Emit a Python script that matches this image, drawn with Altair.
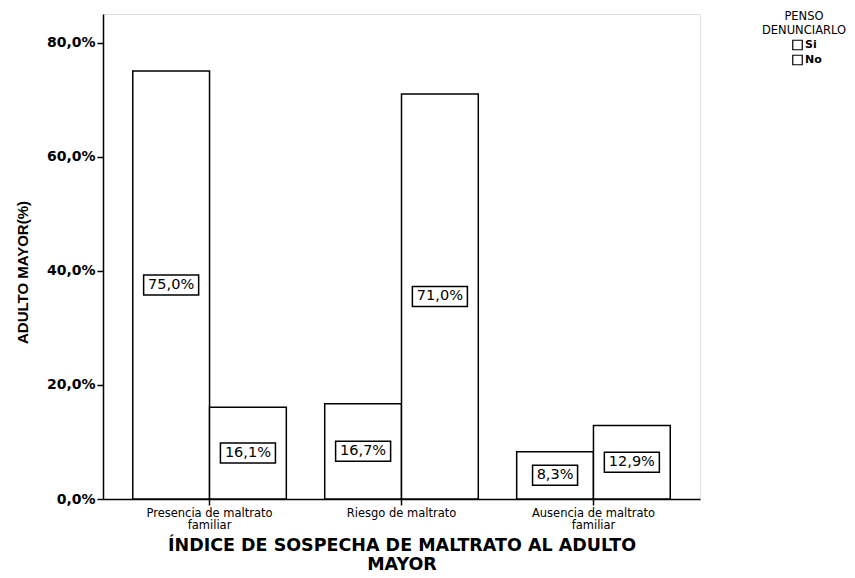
import altair as alt
import pandas as pd

categories = ["Presencia de maltrato familiar", "Riesgo de maltrato", "Ausencia de maltrato familiar"]
series = ["Si", "No"]
si_values = [75.0, 16.7, 8.3]
no_values = [16.1, 71.0, 12.9]
y_ticks = [0, 0.2, 0.4, 0.6, 0.8]

rows = []
for c, s_val, n_val in zip(categories, si_values, no_values):
    for g, v in (("Si", s_val), ("No", n_val)):
        lab = f"{v:.1f}%".replace(".", ",")
        rows.append({"cat": c, "grp": g, "val": v / 100.0, "mid": v / 200.0,
                     "label": lab, "len": str(len(lab))})
df = pd.DataFrame(rows)

FONT = "Liberation Sans"
WIDE = "DejaVu Sans"
box5 = "M-0.917,-0.333H0.917V0.333H-0.917Z"
box4 = "M-0.75,-0.333H0.75V0.333H-0.75Z"

x_enc = alt.X(
    "cat:N", sort=categories,
    scale=alt.Scale(paddingInner=0.2, paddingOuter=0.155),
    axis=alt.Axis(
        title=["ÍNDICE DE SOSPECHA DE MALTRATO AL ADULTO", "MAYOR"],
        titleFont=WIDE, titleFontSize=17.5, titleFontWeight="bold", titleLineHeight=19,
        titleColor="black", titlePadding=5,
        labelFont=WIDE, labelFontSize=11.5, labelColor="black", labelAngle=0,
        labelLineHeight=12.5, labelPadding=2,
        labelExpr="indexof(datum.label, ' familiar') > 0 ? [replace(datum.label, ' familiar', ''), 'familiar'] : datum.label",
        domainColor="black", domainWidth=1.5, tickColor="black", tickSize=6, tickWidth=1.5,
    ),
)
xo_enc = alt.XOffset("grp:N", sort=series, scale=alt.Scale(paddingInner=0, paddingOuter=0))

bars = alt.Chart(df).mark_bar(stroke="black", strokeWidth=1.5).encode(
    x=x_enc,
    xOffset=xo_enc,
    y=alt.Y(
        "val:Q", scale=alt.Scale(domain=[0, 0.85], nice=False),
        axis=alt.Axis(
            title="ADULTO MAYOR(%)", titleFont=FONT, titleFontSize=15, titleFontWeight="bold",
            titleColor="black", titleX=-81, titleY=258, titleAlign="center", titleBaseline="middle",
            values=y_ticks, format=".1%", labelExpr="replace(datum.label, '.', ',')",
            labelFont=WIDE, labelFontSize=14, labelFontWeight="bold", labelColor="black",
            labelPadding=2, grid=False,
            domainColor="black", domainWidth=1.5, tickColor="black", tickSize=6, tickWidth=1.5,
        ),
    ),
    color=alt.Color(
        "grp:N", sort=series,
        scale=alt.Scale(domain=series, range=["white", "white"]),
        legend=alt.Legend(
            title=["PENSO", "DENUNCIARLO"], orient="none", legendX=659, legendY=-3,
            titleFont=WIDE, titleFontSize=11.5, titleFontWeight="normal", titleColor="black",
            titleAlign="center", titleAnchor="middle", titleLineHeight=14, titlePadding=3,
            labelFont=WIDE, labelFontSize=11, labelFontWeight="bold", labelColor="black",
            symbolType="square", symbolSize=90, symbolStrokeColor="black", symbolStrokeWidth=1.2,
            symbolOffset=6, rowPadding=0, labelOffset=2,
        ),
    ),
)

boxes = alt.Chart(df).mark_point(filled=True, fill="white", stroke="black", strokeWidth=1.5, opacity=1, size=3600).encode(
    x=x_enc,
    xOffset=xo_enc,
    y=alt.Y("mid:Q"),
    shape=alt.Shape("len:N", scale=alt.Scale(domain=["4", "5"], range=[box4, box5]), legend=None),
)

texts = alt.Chart(df).mark_text(font=WIDE, fontSize=14.5, color="black", baseline="middle", align="center").encode(
    x=x_enc,
    xOffset=xo_enc,
    y=alt.Y("mid:Q"),
    text="label:N",
)

chart = alt.layer(bars, boxes, texts).properties(
    width=597, height=485,
    autosize=alt.AutoSizeParams(type="none"),
    padding={"left": 95, "top": 6, "right": 147, "bottom": 78},
).configure_view(stroke="black", strokeWidth=1.5).configure(background="white")

chart.save("out.html", embed_options={"renderer": "svg", "actions": False})
